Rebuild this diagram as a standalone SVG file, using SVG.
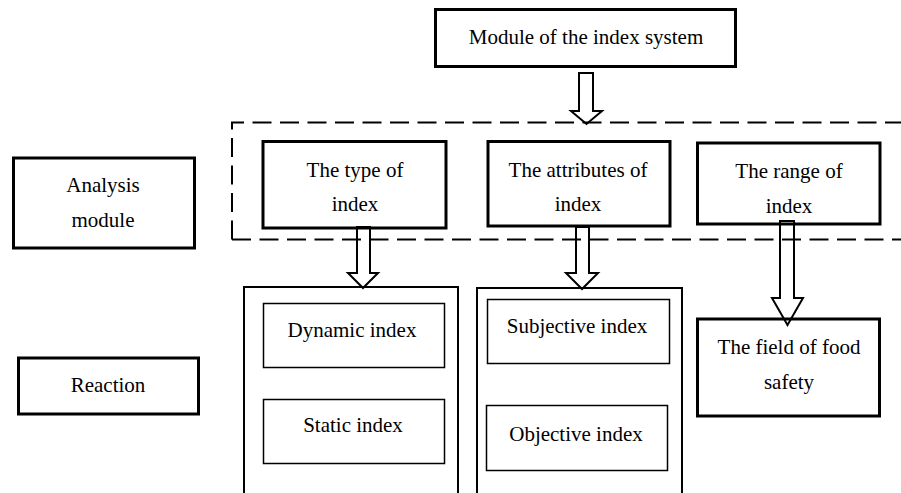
<svg xmlns="http://www.w3.org/2000/svg" width="901" height="493" viewBox="0 0 901 493">
<style>
  .t { font-family: 'Liberation Serif', 'DejaVu Serif', serif; font-size: 21px; fill: #000; text-anchor: middle; }
  .thick { fill: #fff; stroke: #000; stroke-width: 3; }
  .mid { fill: #fff; stroke: #000; stroke-width: 2; }
  .thin { fill: #fff; stroke: #000; stroke-width: 1.5; }
  .arrow { fill: none; stroke: #000; stroke-width: 2; stroke-linejoin: miter; }
  .dash { fill: none; stroke: #000; stroke-width: 2; stroke-dasharray: 19 8.5; }
</style>
<rect width="901" height="493" fill="#fff"/>

<g id="dashed-group">
  <path class="dash" d="M232 239.5 V122.5 H905"/>
  <path class="dash" d="M232 239.5 H905"/>
</g>

<g id="top">
  <rect class="thick" x="435.5" y="9.5" width="300" height="57"/>
  <text class="t" x="586" y="44" font-family="Liberation Serif">Module of the index system</text>
</g>

<g id="analysis">
  <rect class="thick" x="13.5" y="158" width="181" height="90"/>
  <text class="t" x="103" y="192">Analysis</text>
  <text class="t" x="103" y="227">module</text>
</g>

<g id="reaction">
  <rect class="thick" x="18.5" y="358" width="180" height="56"/>
  <text class="t" x="108" y="392">Reaction</text>
</g>

<g id="type">
  <rect class="thick" x="263" y="141.5" width="183" height="86.5"/>
  <text class="t" x="355" y="177">The type of</text>
  <text class="t" x="355" y="211">index</text>
</g>

<g id="attributes">
  <rect class="thick" x="488" y="141.5" width="182" height="84.5"/>
  <text class="t" x="578" y="177">The attributes of</text>
  <text class="t" x="578" y="211">index</text>
</g>

<g id="range">
  <rect class="thick" x="697.5" y="143" width="182.5" height="81"/>
  <text class="t" x="789" y="178">The range of</text>
  <text class="t" x="789" y="213">index</text>
</g>

<g id="type-column">
  <rect class="mid" x="244" y="287" width="214" height="220"/>
  <g id="dynamic">
    <rect class="thin" x="263.5" y="303.5" width="181" height="64"/>
    <text class="t" x="352" y="337">Dynamic index</text>
  </g>
  <g id="static">
    <rect class="thin" x="263.5" y="399.5" width="181" height="64"/>
    <text class="t" x="353" y="432">Static index</text>
  </g>
</g>

<g id="attributes-column">
  <rect class="mid" x="477" y="288" width="205" height="220"/>
  <g id="subjective">
    <rect class="thin" x="487.5" y="299.5" width="182" height="64"/>
    <text class="t" x="577" y="333">Subjective index</text>
  </g>
  <g id="objective">
    <rect class="thin" x="486.5" y="405.5" width="181" height="65"/>
    <text class="t" x="576" y="441">Objective index</text>
  </g>
</g>

<g id="food">
  <rect class="thick" x="697.5" y="319" width="182" height="97"/>
  <text class="t" x="789" y="354">The field of food</text>
  <text class="t" x="789" y="389">safety</text>
</g>

<g id="connectors">
  <polygon class="arrow" points="579,73 593,73 593,111 602,111 586.5,124 571,111 579,111"/>
  <polygon class="arrow" points="357,227 370,227 370,273 378,273 363,288 348,273 357,273"/>
  <polygon class="arrow" points="576,227 589,227 589,273 598,273 582,289 566,273 576,273"/>
  <polygon class="arrow" points="780,221 794,221 794,298 803,298 787.5,325 772,298 780,298"/>
</g>
</svg>
